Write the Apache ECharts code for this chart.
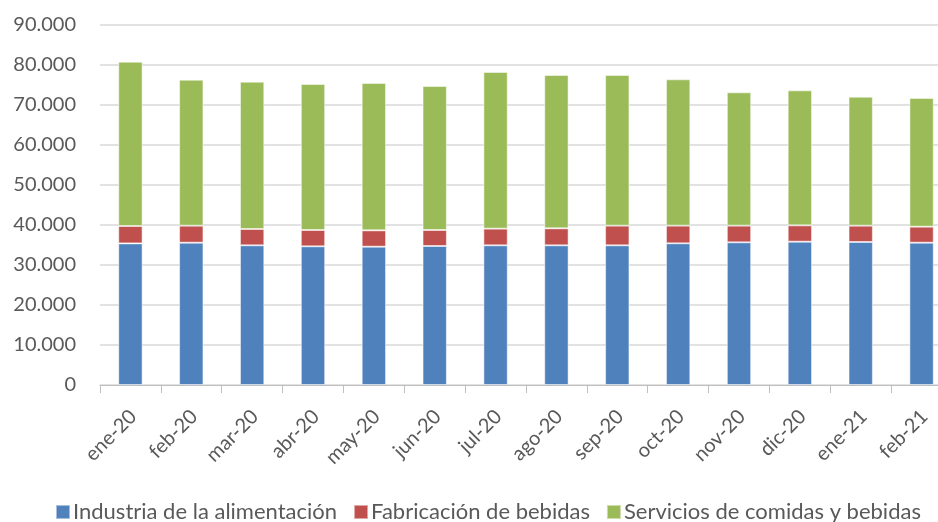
<!DOCTYPE html>
<html><head><meta charset="utf-8">
<script src="https://cdn.jsdelivr.net/npm/echarts@6/dist/echarts.min.js"></script>
<style>html,body{margin:0;padding:0;background:#fff}#c{width:938px;height:522px}</style>
</head><body><div id="c"></div>
<script>
const categories = ['ene-20','feb-20','mar-20','abr-20','may-20','jun-20','jul-20','ago-20','sep-20','oct-20','nov-20','dic-20','ene-21','feb-21'];
const alimentacion = [35400,35580,34920,34670,34580,34750,34920,34920,34920,35420,35670,35830,35750,35580];
const bebidas = [4350,4250,4080,4080,4080,4000,4170,4250,4920,4420,4170,4080,4080,4000];
const servicios = [41080,36500,36830,36500,36830,36000,39170,38330,37670,36580,33330,33750,32250,32170];
const yTicks = {min:0, max:90000, interval:10000};

const font = 'Lato, "Open Sans", sans-serif';
const chart = echarts.init(document.getElementById('c'));
function s(name, data, color){
  return {name, type:'bar', stack:'t', data, barWidth:'40%',
    itemStyle:{color, borderColor:'rgba(255,255,255,0.5)', borderWidth:1}};
}
chart.setOption({
  animation:false,
  grid:{left:100, width:852, top:25, bottom:137, containLabel:false, outerBoundsMode:'none'},
  legend:{top:501, left:55, width:1000, padding:0, itemWidth:14, itemHeight:14, itemGap:16, icon:'rect',
    textStyle:{fontFamily:font, fontSize:22, color:'#595959', padding:[0,0,0,-2]}},
  xAxis:{type:'category', data:categories,
    axisLine:{lineStyle:{color:'#bfbfbf', width:1}},
    axisTick:{show:true, length:8, lineStyle:{color:'#bfbfbf'}},
    axisLabel:{rotate:45, fontFamily:font, fontSize:20, color:'#595959', margin:31, interval:0,
      padding:[0,-4,0,0]}},
  yAxis:{type:'value', min:yTicks.min, max:yTicks.max, interval:yTicks.interval,
    axisLine:{show:false}, axisTick:{show:false},
    splitLine:{lineStyle:{color:'#d9d9d9', width:1.5}},
    axisLabel:{fontFamily:font, fontSize:20, color:'#595959', margin:24,
      formatter:v=>v===0?'0':(v/1000).toFixed(3)}},
  series:[s('Industria de la alimentación', alimentacion, '#4F81BD'),
          s('Fabricación de bebidas', bebidas, '#C0504D'),
          s('Servicios de comidas y bebidas', servicios, '#9BBB59')]
});
</script></body></html>
